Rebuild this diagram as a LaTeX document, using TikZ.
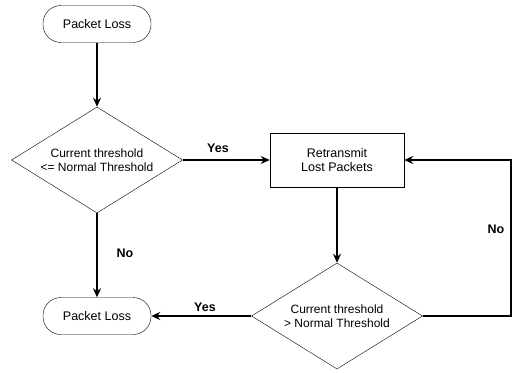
\documentclass[tikz,border=0pt]{standalone}
\usepackage{fontspec}
\setmainfont{Liberation Sans}
\usetikzlibrary{shapes.geometric,arrows.meta}

\tikzset{
    terminal/.style={draw, thin, rounded corners=18pt, minimum width=108pt,
        minimum height=37pt, inner sep=0pt, font=\fontsize{12.5}{14}\selectfont},
    decision/.style={draw, thin, diamond, minimum width=171pt, minimum height=106pt,
        inner sep=0pt, aspect=1.6, align=center, font=\fontsize{12}{14}\selectfont},
    process/.style={draw, thin, rectangle, minimum width=134pt, minimum height=54pt,
        align=center, font=\fontsize{12.5}{14}\selectfont},
    flow/.style={-{Stealth[length=9pt,width=8pt]}, line width=1.8pt},
    answer/.style={font=\fontsize{12.5}{14}\selectfont\bfseries}
}

\begin{document}
\begin{tikzpicture}[x=1pt, y=-1pt]
    \useasboundingbox (0,0) rectangle (516,372);

    \node[terminal] (start) at (97,24) {Packet Loss};
    \node[decision] (check1) at (97,160) {Current threshold\\<= Normal Threshold};
    \node[process] (retx) at (337,160) {Retransmit\\Lost Packets};
    \node[decision] (check2) at (337,316) {Current threshold\\> Normal Threshold};
    \node[terminal] (stop) at (97,316) {Packet Loss};

    \draw[flow] (start) -- (check1);
    \draw[flow] (check1) -- (retx);
    \node[answer] (yes1) at (218,148) {Yes};

    \draw[flow] (check1) -- (stop);
    \node[answer] (no1) at (125,253) {No};

    \draw[flow] (retx) -- (check2);
    \draw[flow] (check2) -- (stop);
    \node[answer] (yes2) at (205,307) {Yes};

    \draw[flow] (check2.east) -- ++(88,0) |- (retx.east);
    \node[answer] (no2) at (496,229) {No};
\end{tikzpicture}
\end{document}
